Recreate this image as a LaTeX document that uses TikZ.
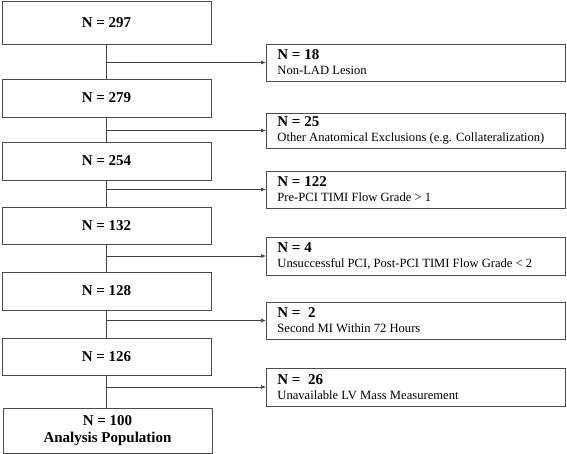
\documentclass[tikz,border=0pt]{standalone}
\usepackage{fontspec}
\setmainfont{Liberation Serif}
\usepackage{tikz}
\usetikzlibrary{arrows.meta}

\begin{document}
\begin{tikzpicture}[x=1pt,y=-1pt,
  mainbox/.style={draw=black!70, line width=0.8pt, minimum width=209pt,
    minimum height=38pt, inner sep=0pt, align=center,
    font=\fontsize{15}{18}\selectfont\bfseries},
  exclbox/.style={draw=black!70, line width=0.8pt, anchor=west,
    text width=277pt, inner xsep=11pt, inner ysep=0pt,
    minimum height=37pt, align=flush left, font=\fontsize{12.6}{15}\selectfont},
  flow/.style={draw=black!75, line width=0.7pt},
  excl/.style={flow, -{Latex[length=5pt,width=4pt]}}]

\useasboundingbox (0,0) rectangle (567,454);

% Main boxes
\node[mainbox, minimum height=43pt] (n297) at (106.5,22.5) {N = 297};
\node[mainbox] (n279) at (106.5,98) {N = 279};
\node[mainbox] (n254) at (106.5,161) {N = 254};
\node[mainbox, minimum height=37pt] (n132) at (106.5,225.5) {N = 132};
\node[mainbox] (n128) at (106.5,291) {N = 128};
\node[mainbox, minimum height=37pt] (n126) at (106.5,356.5) {N = 126};
\node[mainbox, minimum height=45pt] (n100) at (107.5,430.5) {N = 100\\[-1pt] Analysis Population};

% Exclusion boxes
\node[exclbox] (x18) at (266,62.5) {{\fontsize{15}{15}\selectfont\bfseries N = 18}\\ Non-LAD Lesion};
\node[exclbox, minimum height=35pt] (x25) at (266,130.5) {{\fontsize{15}{15}\selectfont\bfseries N = 25}\\ Other Anatomical Exclusions (e.g. Collateralization)};
\node[exclbox] (x122) at (266,189.5) {{\fontsize{15}{15}\selectfont\bfseries N = 122}\\ Pre-PCI TIMI Flow Grade > 1};
\node[exclbox, minimum height=38pt] (x4) at (266,256) {{\fontsize{15}{15}\selectfont\bfseries N = 4}\\ Unsuccessful PCI, Post-PCI TIMI Flow Grade < 2};
\node[exclbox] (x2) at (266,320.5) {{\fontsize{15}{15}\selectfont\bfseries N =\ \ 2}\\ Second MI Within 72 Hours};
\node[exclbox, minimum height=38pt] (x26) at (266,387) {{\fontsize{15}{15}\selectfont\bfseries N =\ \ 26}\\ Unavailable LV Mass Measurement};

% Flow lines
\draw[flow] (n297) -- (n279);
\draw[flow] (n279) -- (n254);
\draw[flow] (n254) -- (n132);
\draw[flow] (n132) -- (n128);
\draw[flow] (n128) -- (n126);
\draw[flow] (n126.south) -- (n126.south |- n100.north);

% Exclusion arrows
\draw[excl] (n297.south |- x18.west) -- (x18.west);
\draw[excl] (n279.south |- x25.west) -- (x25.west);
\draw[excl] (n254.south |- x122.west) -- (x122.west);
\draw[excl] (n132.south |- x4.west) -- (x4.west);
\draw[excl] (n128.south |- x2.west) -- (x2.west);
\draw[excl] (n126.south |- x26.west) -- (x26.west);

\end{tikzpicture}
\end{document}
